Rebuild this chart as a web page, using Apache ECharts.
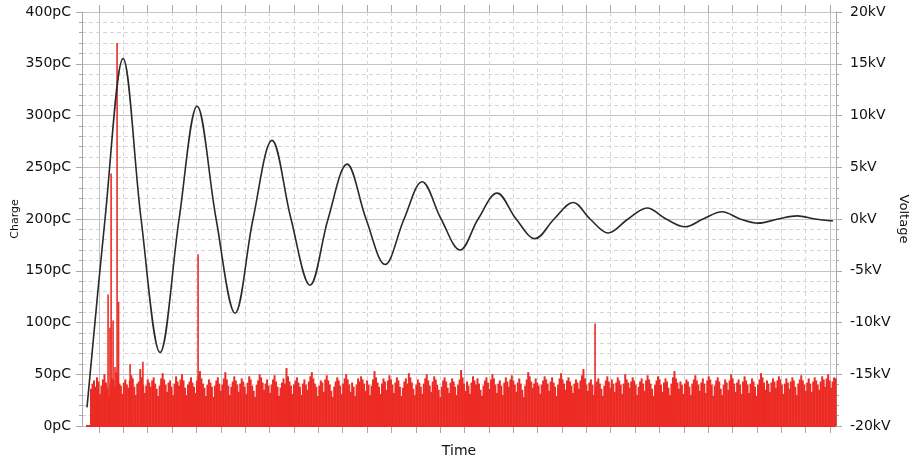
<!DOCTYPE html>
<html>
<head>
<meta charset="utf-8">
<script src="https://cdn.jsdelivr.net/npm/echarts@6/dist/echarts.min.js"></script>
<style>
html,body{margin:0;padding:0;background:#fff;}
#c{width:909px;height:462px;}
</style>
</head>
<body>
<div id="c"></div>
<script>
// Voltage trace (time units arbitrary, major grid every 10)
const voltTime = [-0.99,0.49,1.97,3.45,5.01,6.57,8.05,9.61,11.17,12.64,14.20,15.76,17.32,18.80,20.36,21.92,23.48,25.04,26.52,28.08,29.64,31.12,32.68,34.24,35.80,37.36,38.92,40.31,41.79,43.43,44.99,46.55,48.11,49.59,51.15,52.63,54.11,55.75,57.31,58.78,60.26];
const voltKV = [-18.2,0,15.5,0,-12.9,0,10.9,0,-9.1,0,7.6,0,-6.4,0,5.3,0,-4.4,0,3.6,0,-3.0,0,2.5,0,-1.9,0,1.6,0,-1.35,0,1.06,0,-0.75,0,0.7,0,-0.4,0,0.3,0,-0.2];

// Charge noise floor (pC), sampled evenly from noiseStart with noiseStep
const noiseStart = -0.66;
const noiseStep = 0.1225;
const noisePC = [
36,41,44,38,47,43,31,39,45,50,42,37,29,40,46,44,38,52,48,41,
39,31,42,45,40,37,44,49,46,38,30,41,43,55,47,40,32,39,45,42,
38,44,47,41,36,29,39,46,51,45,40,33,42,44,38,30,41,48,43,39,
45,50,44,37,30,40,43,47,42,38,32,44,49,53,46,41,37,29,40,45,
42,38,28,39,44,47,41,34,40,46,52,45,39,30,38,43,48,44,40,33,
41,46,43,38,31,42,48,45,39,34,28,40,44,50,47,42,35,41,45,39,
32,40,45,49,43,38,29,37,42,46,41,56,48,43,39,31,40,44,47,42,
38,30,41,45,40,35,43,48,52,46,41,38,29,39,44,42,33,45,49,44,
40,34,28,38,43,47,44,39,31,41,46,50,45,40,33,42,38,29,40,46,
43,48,45,41,34,44,40,30,39,45,53,47,42,38,31,41,46,43,35,44,
49,45,40,32,42,47,44,38,29,37,43,46,41,51,47,42,36,30,40,45,
42,38,31,41,46,50,44,39,33,43,48,45,40,35,28,38,44,47,43,37,
32,42,46,43,38,30,40,45,54,47,41,34,43,39,31,42,48,44,40,46,
41,35,29,39,44,47,42,36,45,50,46,40,32,41,44,39,30,42,47,43,
38,45,49,44,40,33,42,46,41,35,28,39,45,52,48,43,37,41,46,42,
39,31,40,44,48,45,41,34,43,47,42,38,29,40,46,51,45,41,35,44,
47,43,39,32,41,45,42,36,44,49,55,46,40,34,42,45,40,30,39,43,
46,41,36,29,39,44,48,43,37,45,41,33,42,47,44,40,31,41,50,45,
42,37,43,47,44,40,30,38,43,46,41,34,44,49,45,41,36,29,40,44,
48,45,40,33,42,46,43,37,30,41,47,53,46,42,36,43,40,31,41,45,
43,38,30,41,45,49,44,40,34,42,46,41,32,44,48,45,40,29,39,44,
47,43,36,30,40,45,42,35,44,50,46,41,33,42,45,40,31,43,48,44,
40,32,41,46,43,38,29,40,45,51,47,42,35,44,41,33,42,46,43,37,
44,48,45,40,31,41,46,42,36,43,47,44,38,30,41,45,49,44,40,34,
42,46,41,33,43,47,44,40,35,43,48,45,38,46,50,44,37,43,47,46
];
// Zero baseline of the charge trace
const baseTime = [-1.07, 60.47];
const basePC = [0, 0];

// Discharge spikes
const spikeTime = [0.74,0.90,0.99,1.15,1.31,1.48,1.60,2.55,3.60,8.13,40.72];
const spikePC   = [127,95,244,102,57,370,120,60,62,166,99];

// Axis ranges
const chargeMin = 0, chargeMax = 400, chargeStep = 50;
const voltMin = -20, voltMax = 20, voltStep = 5;

const noiseData = noisePC.map((v,i)=>[noiseStart + i*noiseStep, v]);
const spikeData = spikeTime.map((t,i)=>[t, spikePC[i]]);
const baseData = baseTime.map((t,i)=>[t, basePC[i]]);
const voltData = voltTime.map((t,i)=>[t, voltKV[i]]);

const FONT = 'DejaVu Sans';
const gridMajor = '#c4c4c4';
const gridMinor = '#d6d6d6';
const axisCol = '#a8a8a8';
const red = '#ec2b25';

const chart = echarts.init(document.getElementById('c'), null, {renderer:'canvas'});
chart.setOption({
  animation: false,
  backgroundColor: '#fff',
  grid: [
    {left: 82, right: 73, top: 12, bottom: 36, containLabel: false, outerBoundsMode: 'none'},
    {left: 99, right: 79, top: 12, bottom: 36, containLabel: false, outerBoundsMode: 'none'}
  ],
  xAxis: [
    {
      type: 'value', gridIndex: 0, min: -1.4, max: 60.5,
      axisLine: {show: false, onZero: false}, axisTick: {show: false}, axisLabel: {show: false},
      splitLine: {show: false},
      name: 'Time', nameLocation: 'middle', nameGap: 18, nameMoveOverlap: false,
      nameTextStyle: {fontFamily: FONT, fontSize: 14, color: '#111'}
    },
    {
      type: 'value', gridIndex: 1, min: 0, max: 60, interval: 10, position: 'bottom',
      axisLine: {show: false, onZero: false},
      axisTick: {show: true, length: 7, lineStyle: {color: axisCol}},
      minorTick: {show: true, splitNumber: 5, length: 7, lineStyle: {color: axisCol}},
      axisLabel: {show: false},
      splitLine: {show: true, lineStyle: {color: gridMajor, width: 1}},
      minorSplitLine: {show: true, lineStyle: {color: gridMinor, type: [4,3], width: 1}}
    },
    {
      type: 'value', gridIndex: 1, min: 0, max: 60, interval: 10, position: 'top',
      axisLine: {show: false, onZero: false},
      axisTick: {show: true, length: 7, lineStyle: {color: axisCol}},
      minorTick: {show: true, splitNumber: 5, length: 7, lineStyle: {color: axisCol}},
      axisLabel: {show: false},
      splitLine: {show: false}
    },
    {
      type: 'value', gridIndex: 0, min: -1.4, max: 60.5, show: false,
      axisLine: {show: false, onZero: false}, splitLine: {show: false}
    }
  ],
  yAxis: [
    {
      type: 'value', gridIndex: 0, min: chargeMin, max: chargeMax, interval: chargeStep, position: 'left',
      axisLine: {show: true, onZero: false, lineStyle: {color: axisCol}},
      axisTick: {show: true, length: 6, lineStyle: {color: axisCol}},
      minorTick: {show: true, splitNumber: 5, length: 3, lineStyle: {color: axisCol}},
      axisLabel: {formatter: '{value}pC', fontFamily: FONT, fontSize: 14, color: '#111', margin: 11},
      splitLine: {show: true, lineStyle: {color: gridMajor, width: 1}},
      minorSplitLine: {show: true, lineStyle: {color: gridMinor, type: [4,3], width: 1}},
      name: 'Charge', nameLocation: 'middle', nameGap: 61, nameMoveOverlap: false,
      nameTextStyle: {fontFamily: FONT, fontSize: 11, color: '#111'}
    },
    {
      type: 'value', gridIndex: 0, min: voltMin, max: voltMax, interval: voltStep, position: 'right',
      axisLine: {show: true, onZero: false, lineStyle: {color: axisCol}},
      axisTick: {show: true, length: 6, lineStyle: {color: axisCol}},
      minorTick: {show: true, splitNumber: 5, length: 3, lineStyle: {color: axisCol}},
      axisLabel: {formatter: '{value}kV', fontFamily: FONT, fontSize: 14, color: '#111', margin: 14},
      splitLine: {show: false},
      name: 'Voltage', nameLocation: 'middle', nameGap: 61, nameRotate: -90, nameMoveOverlap: false,
      nameTextStyle: {fontFamily: FONT, fontSize: 13, color: '#111'}
    },
    {
      type: 'value', gridIndex: 1, min: 0, max: 1, show: false,
      axisLine: {show: false, onZero: false}, splitLine: {show: false}
    },
    {
      type: 'value', gridIndex: 0, min: chargeMin, max: chargeMax, show: false,
      axisLine: {show: false, onZero: false}, splitLine: {show: false}
    }
  ],
  series: [
    {
      type: 'line', xAxisIndex: 0, yAxisIndex: 0, data: baseData,
      symbol: 'none', lineStyle: {color: red, width: 2}, z: 2
    },
    {
      type: 'bar', xAxisIndex: 0, yAxisIndex: 0, data: noiseData,
      barWidth: 2, itemStyle: {color: red}, z: 3
    },
    {
      type: 'bar', xAxisIndex: 3, yAxisIndex: 3, data: spikeData,
      barWidth: 1.6, barMinWidth: 1.2, itemStyle: {color: red}, z: 3
    },
    {
      type: 'line', xAxisIndex: 0, yAxisIndex: 1, data: voltData,
      symbol: 'none', smooth: 0.36,
      lineStyle: {color: '#2a2a2a', width: 1.6},
      z: 4
    }
  ]
});
</script>
</body>
</html>
